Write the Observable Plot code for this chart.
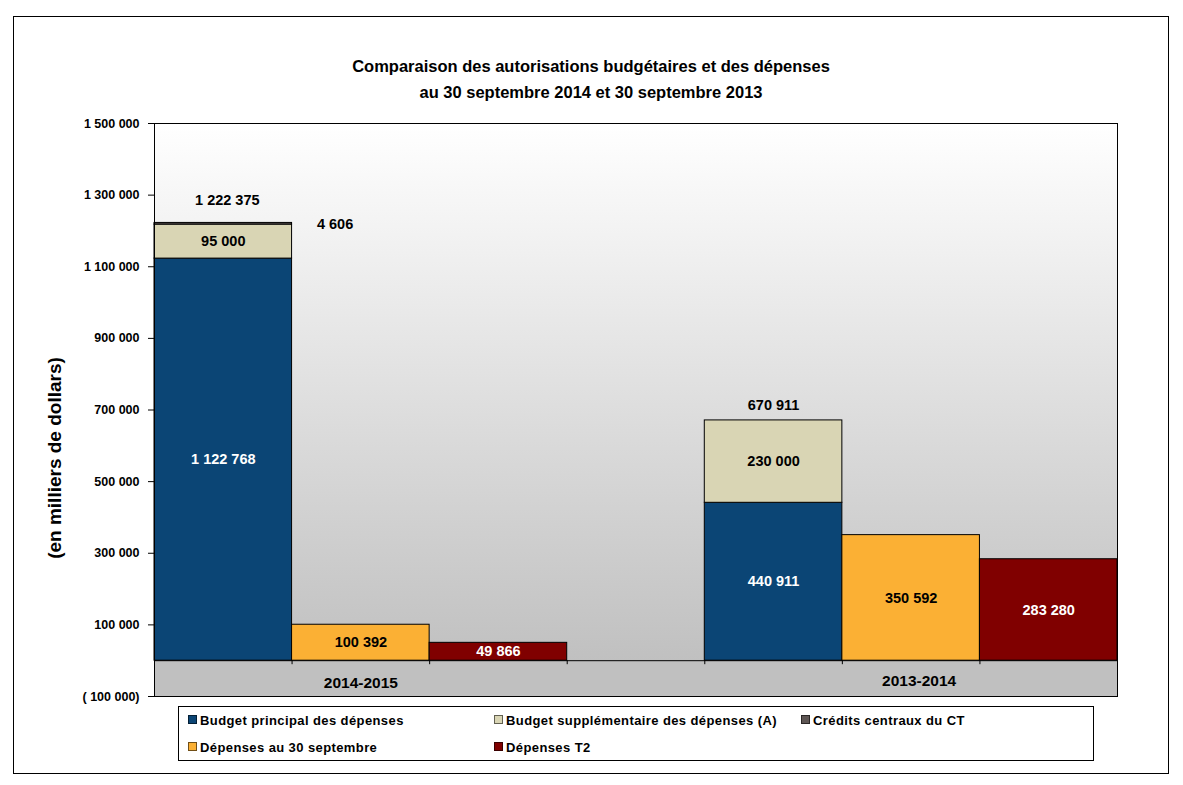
<!DOCTYPE html>
<html><head><meta charset="utf-8">
<script src="https://cdn.jsdelivr.net/npm/d3@7"></script>
<script src="https://cdn.jsdelivr.net/npm/@observablehq/plot@0.6"></script>
<style>
body{margin:0;background:#fff;font-family:"Liberation Sans",Arial,sans-serif;color:#000;}
#wrap{position:relative;width:1183px;height:785px;overflow:hidden;}
#border{position:absolute;left:13px;top:16px;width:1154px;height:756px;border:1px solid #000;}
#title{position:absolute;left:13px;width:1156px;top:53px;text-align:center;font-weight:bold;font-size:16.5px;line-height:26px;}
#ylab{position:absolute;left:55px;top:458px;transform:translate(-50%,-50%) rotate(-90deg);font-weight:bold;font-size:19px;white-space:nowrap;}
#legend{position:absolute;left:178px;top:706px;width:914px;height:53px;border:1px solid #000;background:#fff;}
.item{position:absolute;font-weight:bold;font-size:13px;letter-spacing:0.4px;white-space:nowrap;line-height:16px;transform:translateY(-50%);}
.sw{display:inline-block;width:7px;height:7px;margin-right:3px;border:1px solid rgba(0,0,0,0.55);vertical-align:1px;}
#chart{position:absolute;left:0;top:0;}
</style></head>
<body>
<div id="wrap">
  <div id="border"></div>
  <div id="chart"></div>
  <div id="title">Comparaison des autorisations budgétaires et des dépenses<br>au 30 septembre 2014 et 30 septembre 2013</div>
  <div id="ylab">(en milliers de dollars)</div>
  <div id="legend"></div>
</div>
<script>
// ---- data ----
const years = ["2014-2015", "2013-2014"];
const series = ["Budget principal des dépenses", "Budget supplémentaire des dépenses (A)", "Crédits centraux du CT", "Dépenses au 30 septembre", "Dépenses T2"];
const colors = ["#0b4575", "#d9d5b4", "#5e5654", "#fbb034", "#800000"];
const labelColors = ["#ffffff", "#000000", "#000000", "#000000", "#ffffff"];
const budgetPrincipal = [1122768, 440911];
const budgetSupp = [95000, 230000];
const creditsCT = [4606, 0];
const depenses30sept = [100392, 350592];
const depensesT2 = [49866, 283280];
const totalLabels = ["1 222 375", "670 911"];
const yTicks = [-100000, 100000, 300000, 500000, 700000, 900000, 1100000, 1300000, 1500000];
const yDomain = [-100000, 1500000];

// ---- build table ----
const slotsPerYear = 4; // 3 bars + gap
const nSlots = years.length * slotsPerYear - 1;
const stacks = [
  [budgetPrincipal, budgetSupp, creditsCT], // column 0 : authorities
  [depenses30sept],                          // column 1
  [depensesT2]                               // column 2
];
const stackSeries = [[0, 1, 2], [3], [4]];
const rows = [];
const totals = [];
years.forEach((yr, i) => {
  stacks.forEach((col, c) => {
    let base = 0;
    col.forEach((arr, k) => {
      const v = arr[i];
      const s = stackSeries[c][k];
      if (v > 0) rows.push({year: yr, slot: i * slotsPerYear + c, series: s, y1: base, y2: base + v, value: v});
      base += v;
    });
    if (c === 0) totals.push({year: yr, slot: i * slotsPerYear, total: base, label: totalLabels[i], idx: i});
  });
});
const fmt = d3.formatLocale({thousands: " ", grouping: [3], decimal: ",", currency: ["", ""]}).format(",d");
const fmtY = d => d < 0 ? "( " + fmt(-d) + ")" : fmt(d);
const bounds = d3.range(1, nSlots);
const inner = rows.filter(r => r.series !== 2);
const credits = rows.filter(r => r.series === 2);
const yearRows = years.map((y, i) => ({year: y, slot: i * slotsPerYear + 1, idx: i}));

const plot = Plot.plot({
  width: 1183, height: 785,
  marginLeft: 154, marginRight: 66, marginTop: 123, marginBottom: 89,
  x: {type: "linear", domain: [0, nSlots], axis: null},
  y: {domain: yDomain, axis: null},
  color: {type: "identity"},
  style: {background: "transparent", fontFamily: "'Liberation Sans', Arial, sans-serif", color: "#000", overflow: "visible"},
  marks: [
    Plot.frame({fill: "url(#bgGrad)", stroke: null}),
    Plot.rect([yDomain[0]], {x1: () => 0, x2: () => nSlots, y1: d => d, y2: () => 0, fill: "#c0c0c0"}),
    Plot.rect(rows, {x1: "slot", x2: d => d.slot + 1, y1: "y1", y2: "y2", fill: d => colors[d.series], stroke: "#000", strokeWidth: 1}),
    Plot.ruleY([0], {stroke: "#000", strokeWidth: 1}),
    Plot.ruleX(bounds, {x: d => d, y1: () => 0, y2: () => 0, insetBottom: -4, stroke: "#000"}),
    Plot.text(inner, {x: d => d.slot + 0.5, y: d => (d.y1 + d.y2) / 2, text: d => fmt(d.value), fill: d => labelColors[d.series], fontSize: 14.5, fontWeight: "bold"}),
    Plot.text(credits, {x: d => d.slot + 1, y: "y2", text: d => fmt(d.value), fill: "#000", fontSize: 14.5, fontWeight: "bold", textAnchor: "middle", dx: 43, dy: 1}),
    Plot.text(totals.filter(d => d.idx === 0), {x: d => d.slot + 0.5, y: "total", text: "label", fontSize: 14.5, fontWeight: "bold", dy: -23, dx: 4}),
    Plot.text(totals.filter(d => d.idx !== 0), {x: d => d.slot + 0.5, y: "total", text: "label", fontSize: 14.5, fontWeight: "bold", dy: -15}),
    Plot.text(yearRows.filter(d => d.idx === 0), {x: d => d.slot + 0.5, y: () => 0, text: "year", fontSize: 15.5, fontWeight: "bold", dy: 22}),
    Plot.text(yearRows.filter(d => d.idx !== 0), {x: d => d.slot + 0.5, y: () => 0, text: "year", fontSize: 15.5, fontWeight: "bold", dy: 20, dx: 8}),
    Plot.axisY({ticks: yTicks, tickFormat: fmtY, tickSize: 6, tickPadding: 9, fontSize: 12.5, fontWeight: "bold", label: null}),
    Plot.frame({stroke: "#000"})
  ]
});
const svg = d3.select(plot);
const grad = svg.insert("defs", ":first-child").append("linearGradient")
  .attr("id", "bgGrad").attr("x1", 0).attr("y1", 0).attr("x2", 0).attr("y2", 1);
grad.append("stop").attr("offset", "0").attr("stop-color", "#ffffff");
grad.append("stop").attr("offset", "0.94").attr("stop-color", "#c0c0c0");
grad.append("stop").attr("offset", "1").attr("stop-color", "#c0c0c0");
document.getElementById("chart").appendChild(plot);

// ---- legend ----
const colLeft = [9, 315, 622];
const rowTop = [14, 41];
const leg = d3.select("#legend");
series.forEach((s, i) => {
  const r = Math.floor(i / 3), c = i % 3;
  const it = leg.append("div").attr("class", "item").style("left", colLeft[c] + "px").style("top", rowTop[r] + "px");
  it.append("span").attr("class", "sw").style("background", colors[i]);
  it.append("span").text(s);
});
</script>
</body></html>
